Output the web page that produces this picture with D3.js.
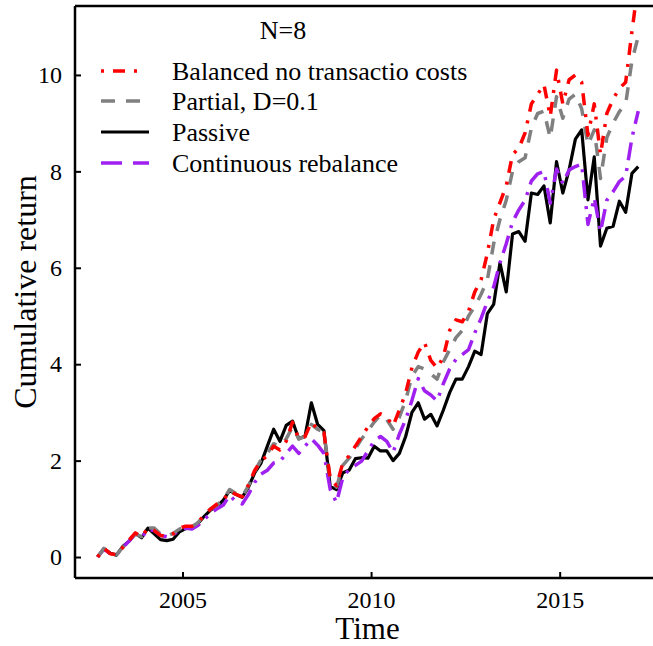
<!DOCTYPE html>
<html>
<head>
<meta charset="utf-8">
<script src="https://cdn.jsdelivr.net/npm/d3@7/dist/d3.min.js"></script>
<style>
  html, body { margin: 0; padding: 0; background: #fff; }
  svg { display: block; }
  text { font-family: "Liberation Serif", "Times New Roman", serif; fill: #000; }
</style>
</head>
<body>
<div id="chart"></div>
<script>
// Observation times (decimal years, two-month steps)
const time = d3.range(87).map(i => 2002.75 + i / 6);

// Cumulative return of each strategy
const balanced = [
  0.00, 0.18, 0.07, 0.05, 0.20, 0.35, 0.50, 0.42, 0.60, 0.55,
  0.45, 0.42, 0.48, 0.60, 0.64, 0.64, 0.72, 0.88, 1.00, 1.10,
  1.18, 1.36, 1.30, 1.25, 1.50, 1.80, 2.00, 2.10, 2.30, 2.22,
  2.40, 2.80, 2.45, 2.50, 2.80, 2.65, 2.58, 1.62, 1.48, 1.95,
  2.10, 2.30, 2.50, 2.70, 2.87, 2.97, 2.90, 2.72, 3.05, 3.40,
  3.93, 4.25, 4.45, 4.08, 3.92, 4.15, 4.70, 4.92, 4.88, 5.10,
  5.50, 5.75, 6.30, 7.00, 7.35, 7.70, 8.35, 8.48, 8.80, 9.40,
  9.60, 9.80, 9.14, 10.10, 9.40, 9.90, 10.00, 9.85, 8.75, 9.40,
  8.35, 9.20, 9.50, 9.72, 9.85, 10.90, 11.90
];
const partial = [
  0.00, 0.18, 0.08, 0.05, 0.20, 0.35, 0.48, 0.42, 0.60, 0.60,
  0.48, 0.43, 0.49, 0.58, 0.63, 0.63, 0.72, 0.87, 1.00, 1.08,
  1.20, 1.40, 1.32, 1.25, 1.48, 1.78, 2.02, 2.15, 2.35, 2.30,
  2.45, 2.70, 2.45, 2.50, 2.75, 2.65, 2.58, 1.60, 1.45, 1.90,
  2.05, 2.25, 2.45, 2.62, 2.80, 2.95, 2.85, 2.65, 2.90, 3.25,
  3.75, 3.95, 3.90, 3.80, 3.69, 4.05, 4.30, 4.55, 4.70, 5.00,
  5.20, 5.45, 5.75, 6.50, 7.00, 7.40, 8.00, 8.20, 8.28, 8.90,
  9.20, 9.25, 8.69, 9.55, 9.10, 9.50, 9.60, 9.30, 8.55, 8.86,
  7.85, 8.70, 9.00, 9.24, 9.40, 10.30, 10.80
];
const passive = [
  0.00, 0.17, 0.08, 0.04, 0.22, 0.33, 0.49, 0.40, 0.60, 0.48,
  0.36, 0.34, 0.37, 0.52, 0.59, 0.60, 0.70, 0.85, 0.98, 1.05,
  1.18, 1.38, 1.30, 1.24, 1.45, 1.75, 1.95, 2.30, 2.65, 2.40,
  2.73, 2.82, 2.45, 2.51, 3.20, 2.75, 2.62, 1.46, 1.40, 1.75,
  1.80, 2.04, 2.06, 2.05, 2.30, 2.20, 2.20, 2.00, 2.15, 2.50,
  3.00, 3.20, 2.86, 2.96, 2.72, 3.05, 3.41, 3.69, 3.69, 3.95,
  4.27, 4.20, 5.05, 5.24, 6.10, 5.50, 6.70, 6.75, 6.55, 7.55,
  7.52, 7.70, 6.93, 8.20, 7.55, 8.03, 8.67, 8.86, 7.41, 8.30,
  6.45, 6.82, 6.86, 7.38, 7.15, 7.96, 8.10
];
const continuous = [
  0.00, 0.17, 0.07, 0.04, 0.20, 0.33, 0.48, 0.40, 0.58, 0.55,
  0.45, 0.42, 0.46, 0.56, 0.60, 0.58, 0.66, 0.78, 0.92, 1.00,
  1.08, 1.28, 1.15, 1.10, 1.30, 1.55, 1.72, 1.80, 1.95, 1.98,
  2.15, 2.30, 2.15, 2.30, 2.45, 2.32, 2.15, 1.40, 1.13, 1.65,
  1.82, 1.90, 1.99, 2.20, 2.41, 2.50, 2.40, 2.17, 2.55, 2.85,
  3.25, 3.70, 3.45, 3.36, 3.24, 3.60, 3.90, 4.10, 4.20, 4.30,
  4.65, 4.95, 5.30, 5.60, 6.10, 6.50, 6.95, 7.20, 7.40, 7.80,
  7.95, 8.00, 7.34, 8.05, 7.75, 8.03, 8.10, 8.15, 6.90, 7.45,
  6.75, 7.40, 7.58, 7.79, 7.90, 8.70, 9.25
];

const seriesNames = [
  "Balanced no transactio costs",
  "Partial, D=0.1",
  "Passive",
  "Continuous rebalance"
];
const yTicks = [0, 2, 4, 6, 8, 10];
const xTicks = [2005, 2010, 2015];

(function draw() {
  const W = 653, H = 646;
  const pL = 75, pR = 660, pT = 6, pB = 578;

  const svg = d3.select("#chart").append("svg")
    .attr("width", W).attr("height", H);

  const x = d3.scaleLinear().domain([2002.15, 2017.66]).range([pL, pR]);
  const y = d3.scaleLinear().domain([-0.435, 11.43]).range([pB, pT]);

  svg.append("defs").append("clipPath").attr("id", "plot-clip")
    .append("rect").attr("x", pL).attr("y", pT)
    .attr("width", pR - pL).attr("height", pB - pT);

  // line styles (legend keys may use a different dash rhythm)
  const styles = [
    { data: balanced,   color: "#ff0000", width: 3.5, dash: "3,9,12,9", key: "3,9,12,9" },
    { data: partial,    color: "#808080", width: 3.5, dash: "13,11",    key: "14,11" },
    { data: passive,    color: "#000000", width: 3.2, dash: null,       key: null },
    { data: continuous, color: "#a020f0", width: 3.5, dash: "18,8,3,8", key: "21,11" }
  ];

  const line = d3.line()
    .x((d, i) => x(time[i]))
    .y(d => y(d));

  const plot = svg.append("g").attr("clip-path", "url(#plot-clip)");
  // drawing order: passive underneath, then continuous, partial, balanced
  [2, 3, 1, 0].forEach(k => {
    const s = styles[k];
    plot.append("path")
      .datum(s.data)
      .attr("fill", "none")
      .attr("stroke", s.color)
      .attr("stroke-width", s.width)
      .attr("stroke-linejoin", "round")
      .attr("stroke-dasharray", s.dash)
      .attr("d", line);
  });

  // axes with inward ticks
  const yAxis = d3.axisLeft(y).tickValues(yTicks).tickSizeInner(-6).tickSizeOuter(0)
    .tickPadding(13).tickFormat(d3.format("d"));
  const xAxis = d3.axisBottom(x).tickValues(xTicks).tickSizeInner(-6).tickSizeOuter(0)
    .tickPadding(13).tickFormat(d3.format("d"));

  const gy = svg.append("g").attr("transform", `translate(${pL},0)`).call(yAxis);
  const gx = svg.append("g").attr("transform", `translate(0,${pB})`).call(xAxis);
  [gy, gx].forEach(g => {
    g.select(".domain").attr("stroke", "#000").attr("stroke-width", 2.5);
    g.selectAll(".tick line").attr("stroke", "#000").attr("stroke-width", 2);
    g.selectAll(".tick text")
      .attr("font-family", "Liberation Serif, Times New Roman, serif")
      .attr("font-size", 24).attr("fill", "#000");
  });
  gy.select(".domain").attr("d", `M0,${pT}V${pB}`);
  gx.select(".domain").attr("d", `M${pL},0H${pR}`);

  // top frame line
  svg.append("line")
    .attr("x1", pL).attr("x2", pR).attr("y1", pT).attr("y2", pT)
    .attr("stroke", "#000").attr("stroke-width", 2.5);

  // axis titles
  svg.append("text")
    .attr("x", (pL + pR) / 2).attr("y", 639)
    .attr("text-anchor", "middle").attr("font-size", 31)
    .text("Time");
  svg.append("text")
    .attr("transform", `translate(36,${(pT + pB) / 2}) rotate(-90)`)
    .attr("text-anchor", "middle").attr("font-size", 32)
    .text("Cumulative return");

  // legend
  const legend = svg.append("g");
  legend.append("text")
    .attr("x", 283).attr("y", 39)
    .attr("text-anchor", "middle").attr("font-size", 26)
    .text("N=8");
  const rowY = [71, 101, 132, 163];
  styles.forEach((s, k) => {
    legend.append("line")
      .attr("x1", 101).attr("x2", k === 0 ? 139 : (k === 1 ? 140 : 149))
      .attr("y1", rowY[k]).attr("y2", rowY[k])
      .attr("stroke", s.color).attr("stroke-width", s.width)
      .attr("stroke-dasharray", s.key);
    legend.append("text")
      .attr("x", 172).attr("y", rowY[k] + 9)
      .attr("font-size", 26)
      .text(seriesNames[k]);
  });
})();
</script>
</body>
</html>
